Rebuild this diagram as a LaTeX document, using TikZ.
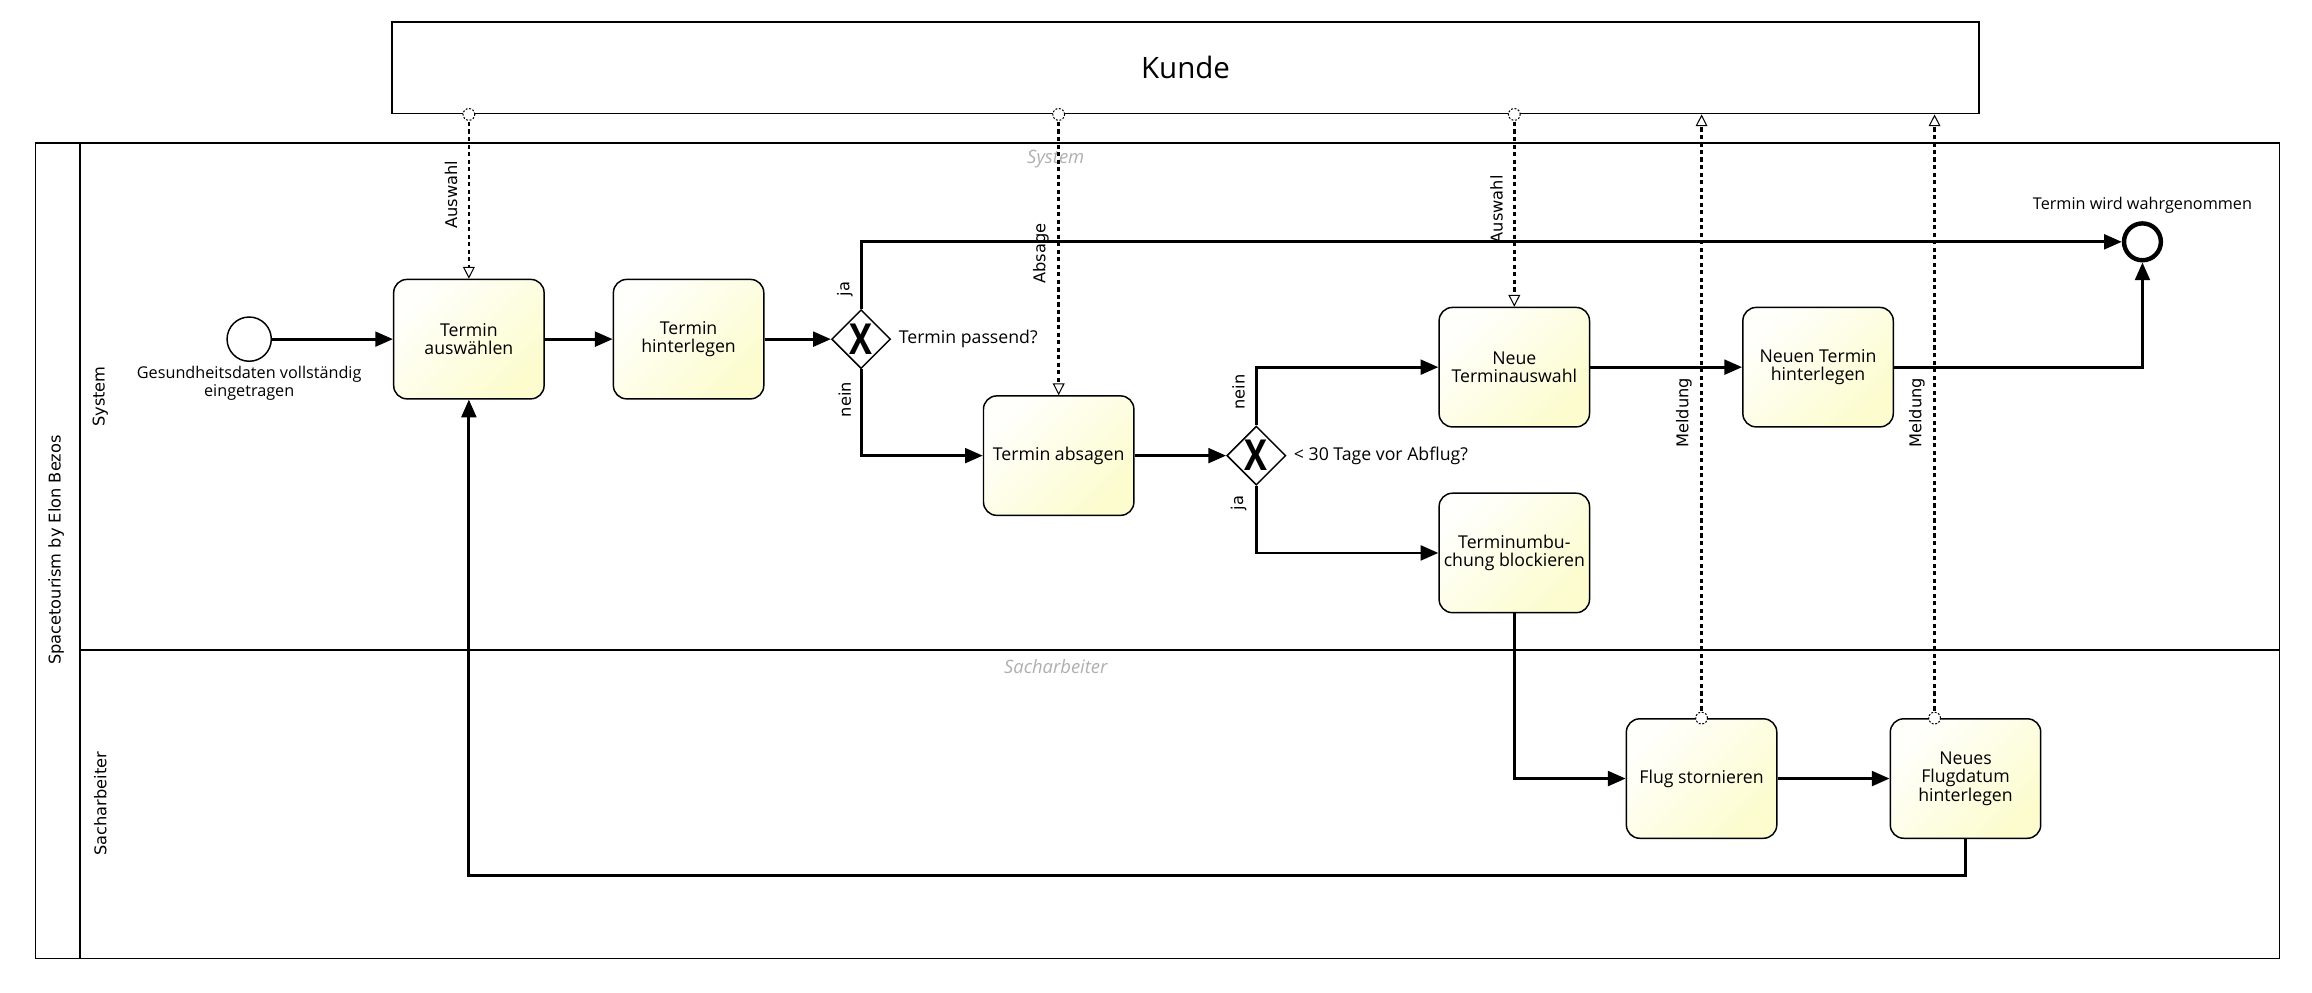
\documentclass[tikz,border=0pt]{standalone}
\usepackage{graphicx}
\usepackage{fontspec}
\setmainfont{Open Sans}
\newfontfamily\dejavu{DejaVu Sans}
\usetikzlibrary{arrows.meta,shapes.geometric}
\definecolor{taskA}{RGB}{255,255,252}
\definecolor{taskB}{RGB}{252,252,206}
\definecolor{lanegray}{RGB}{175,175,175}
\begin{document}
\begin{tikzpicture}[x=1pt,y=-1pt,
  task/.style={draw, line width=1pt, rounded corners=9pt, minimum width=102pt, minimum height=81pt,
    align=center, inner sep=1pt, font=\fontsize{12}{12.4}\selectfont,
    top color=taskA, bottom color=taskB, shading angle=45},
  gw/.style={diamond, draw, fill=white, line width=1pt, minimum width=40pt, minimum height=40pt,
    inner sep=0pt, font=\fontsize{29}{29}\selectfont\bfseries},
  seq/.style={line width=1.9pt, -{Triangle[length=12pt,width=10pt]}},
  msg/.style={line width=1.8pt, dash pattern=on 2.8pt off 2.3pt,
    -{Triangle[open,length=8pt,width=8pt,line width=0.7pt]}},
  mcirc/.style={circle, draw, fill=white, line width=0.7pt, dash pattern=on 1.3pt off 1.1pt,
    minimum size=8pt, inner sep=0pt},
  rlab/.style={rotate=90, font=\dejavu\fontsize{11}{11}\selectfont},
  evlab/.style={align=center, font=\fontsize{11}{12}\selectfont},
  glab/.style={anchor=west, font=\fontsize{12}{12}\selectfont},
  lanemark/.style={font=\itshape\fontsize{12.5}{12.5}\selectfont, text=lanegray}
]
\useasboundingbox (0,0) rectangle (1568,673);

% Kunde pool
\node[draw, line width=1.2pt, minimum width=1076pt, minimum height=62pt, inner sep=0pt,
  font=\fontsize{20}{20}\selectfont] (kunde) at (804,46) {Kunde};

% main pool
\draw[line width=1.2pt] (24,97) rectangle (1546,650);
\draw[line width=1.2pt] (54,97) -- (54,650);
\draw[line width=1.2pt] (54,441) -- (1546,441);
\node[rlab] (pooltitle) at (38,373) {Spacetourism by Elon Bezos};
\node[rlab] (lane1) at (68,269) {System};
\node[rlab] (lane2) at (68,545) {Sacharbeiter};
\node[lanemark] (lane1w) at (716,108) {System};
\node[lanemark] (lane2w) at (716,452) {Sacharbeiter};

% events
\node[circle, draw, fill=white, line width=1pt, minimum size=30pt, inner sep=0pt] (start) at (169,230) {};
\node[evlab] (startlab) at (169,260) {Gesundheitsdaten vollständig\\eingetragen};
\node[circle, draw, fill=white, line width=3pt, minimum size=25pt, inner sep=0pt] (end) at (1453,164) {};
\node[evlab] (endlab) at (1453,139) {Termin wird wahrgenommen};

% tasks
\node[task] (t1) at (318,230) {Termin\\auswählen};
\node[task] (t2) at (467,230) {Termin\\hinterlegen};
\node[task] (t3) at (718,309) {Termin absagen};
\node[task] (t4) at (1027,249) {Neue\\Terminauswahl};
\node[task] (t5) at (1027,375) {Terminumbu-\\chung blockieren};
\node[task] (t6) at (1233,249) {Neuen Termin\\hinterlegen};
\node[task] (t7) at (1154,528) {Flug stornieren};
\node[task] (t8) at (1333,528) {Neues\\Flugdatum\\hinterlegen};

% gateways
\node[gw] (g1) at (584,230) {\scalebox{0.8}[1]{X}};
\node[glab] (g1lab) at (606,230) {Termin passend?};
\node[gw] (g2) at (852,309) {\scalebox{0.8}[1]{X}};
\node[glab] (g2lab) at (874,309) {< 30 Tage vor Abflug?};

% sequence flows
\draw[seq] (start) -- (t1);
\draw[seq] (t1) -- (t2);
\draw[seq] (t2) -- (g1);
\draw[seq] (g1.north) |- (end);
\draw[seq] (g1.south) |- (t3);
\draw[seq] (t3) -- (g2);
\draw[seq] (g2.north) |- (t4);
\draw[seq] (g2.south) |- (t5);
\draw[seq] (t4) -- (t6);
\draw[seq] (t6.east) -| (end.south);
\draw[seq] (t5.south) |- (t7);
\draw[seq] (t7) -- (t8);
\coordinate (loop) at (318,594);
\draw[seq] (t8.south) |- (loop) -- (t1.south);

\node[rlab] (ja1) at (573,196) {ja};
\node[rlab] (nein1) at (573,271) {nein};
\node[rlab] (nein2) at (840,266) {nein};
\node[rlab] (ja2) at (840,341) {ja};

% message flows
\draw[msg] (t1.north |- kunde.south) -- (t1.north);
\node[mcirc] (c1) at (t1.north |- kunde.south) {};
\node[rlab] (m1) at (306,132) {Auswahl};

\draw[msg] (t3.north |- kunde.south) -- (t3.north);
\node[mcirc] (c3) at (t3.north |- kunde.south) {};
\node[rlab] (m3) at (706,172) {Absage};

\draw[msg] (t4.north |- kunde.south) -- (t4.north);
\node[mcirc] (c4) at (t4.north |- kunde.south) {};
\node[rlab] (m4) at (1015,142) {Auswahl};

\draw[msg] (t7.north) -- (t7.north |- kunde.south);
\node[mcirc] (c7) at (t7.north) {};
\node[rlab] (m7) at (1142,280) {Meldung};

\coordinate (t8m) at ([xshift=-21pt]t8.north);
\draw[msg] (t8m) -- (t8m |- kunde.south);
\node[mcirc] (c8) at (t8m) {};
\node[rlab] (m8) at (1300,280) {Meldung};
\end{tikzpicture}
\end{document}
